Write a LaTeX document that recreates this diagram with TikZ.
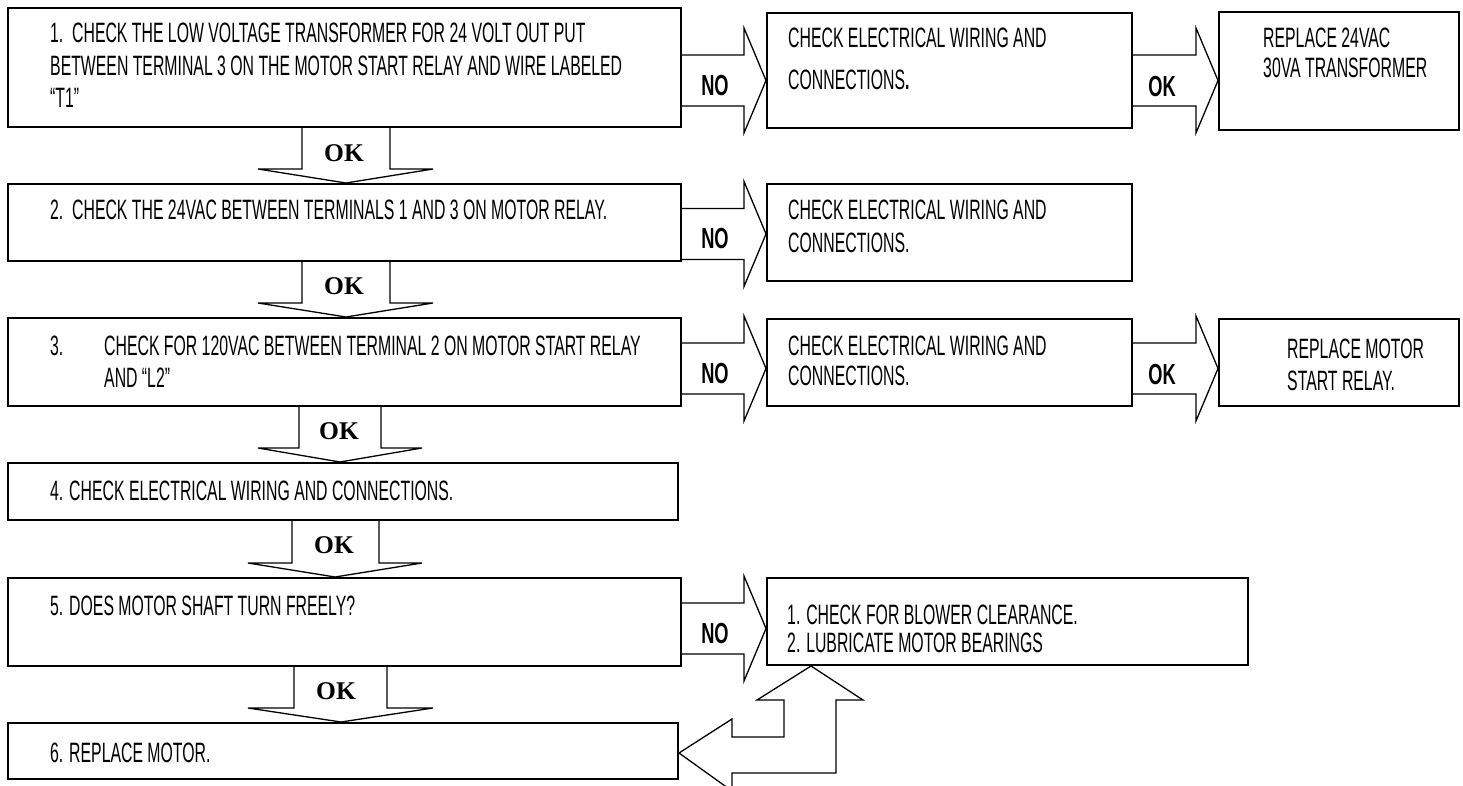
\documentclass[tikz,border=0pt]{standalone}
\usepackage{fontspec}
\setmainfont{Liberation Sans}[FakeStretch=0.565]
\newfontfamily\nofont{Liberation Sans}[FakeStretch=0.63]
\newfontfamily\okfont{Liberation Serif}
\usetikzlibrary{calc}
\tikzset{
  box/.style={draw, line width=2pt, inner sep=0pt, anchor=north west},
  arr/.style={draw, line width=1.3pt, line join=miter},
  txt/.style={inner sep=0pt, anchor=base west, font=\fontsize{28}{32}\selectfont},
  nolab/.style={inner sep=0pt, anchor=center, font=\nofont\bfseries\fontsize{29}{32}\selectfont},
  oklab/.style={inner sep=0pt, anchor=center, font=\okfont\bfseries\fontsize{25.5}{30}\selectfont}
}
\newcommand\hblock[3]{%
  \draw[arr] (#1.east |- 0,#3-25.5)
    -- ($(#2.west |- 0,#3)+(-22,-25.5)$)
    -- ($(#2.west |- 0,#3)+(-22,-52.5)$)
    -- (#2.west |- 0,#3)
    -- ($(#2.west |- 0,#3)+(-22,52.5)$)
    -- ($(#2.west |- 0,#3)+(-22,25.5)$)
    -- (#1.east |- 0,#3+25.5);}
\newcommand\vblock[7]{%
  \draw[arr] (#3,0 |- #1.south)
    -- ($(#3,0 |- #2.north)+(0,-14)$)
    -- ($(#5,0 |- #2.north)+(0,-14)$)
    -- (#7,0 |- #2.north)
    -- ($(#6,0 |- #2.north)+(0,-14)$)
    -- ($(#4,0 |- #2.north)+(0,-14)$)
    -- (#4,0 |- #1.south);}
\begin{document}
\begin{tikzpicture}[x=1pt,y=-1pt]
\useasboundingbox (0,0) rectangle (1463,786);
\clip (0,0) rectangle (1463,786);
% left column boxes
\node[box, minimum width=673pt, minimum height=119pt] (b1) at (7,7) {};
\node[box, minimum width=673pt, minimum height=77pt] (b2) at (7,183) {};
\node[box, minimum width=673pt, minimum height=88pt] (b3) at (7,317) {};
\node[box, minimum width=670pt, minimum height=57pt] (b4) at (7,462) {};
\node[box, minimum width=673pt, minimum height=88pt] (b5) at (7,577) {};
\node[box, minimum width=670pt, minimum height=56pt] (b6) at (7,722) {};
% right boxes
\node[box, minimum width=365pt, minimum height=115pt] (r1a) at (766,12) {};
\node[box, minimum width=240pt, minimum height=118pt] (r1b) at (1218,11) {};
\node[box, minimum width=365pt, minimum height=97pt] (r2a) at (766,183) {};
\node[box, minimum width=365pt, minimum height=87pt] (r3a) at (766,318) {};
\node[box, minimum width=240pt, minimum height=87pt] (r3b) at (1218,318) {};
\node[box, minimum width=481pt, minimum height=87pt] (r5a) at (766,577) {};
% texts
\node[txt] (t1a) at (50,43) {1.\ \ CHECK THE LOW VOLTAGE TRANSFORMER FOR 24 VOLT OUT PUT};
\node[txt] (t1b) at (50,75.5) {BETWEEN TERMINAL 3 ON THE MOTOR START RELAY AND WIRE LABELED};
\node[txt] (t1c) at (50,108) {“T1”};
\node[txt] (t2) at (50,220) {2.\ \ CHECK THE 24VAC BETWEEN TERMINALS 1 AND 3 ON MOTOR RELAY.};
\node[txt] (t3n) at (50,355) {3.};
\node[txt] (t3a) at (104,355) {CHECK FOR 120VAC BETWEEN TERMINAL 2 ON MOTOR START RELAY};
\node[txt] (t3b) at (104,387) {AND “L2”};
\node[txt] (t4) at (50,500) {4. CHECK ELECTRICAL WIRING AND CONNECTIONS.};
\node[txt] (t5) at (50,615) {5. DOES MOTOR SHAFT TURN FREELY?};
\node[txt] (t6) at (50,762) {6. REPLACE MOTOR.};
\node[txt] (s1a) at (788,48) {CHECK ELECTRICAL WIRING AND};
\node[txt] (s1b) at (788,90) {CONNECTIONS{\bfseries.}};
\node[txt] (s1c) at (1263,48) {REPLACE 24VAC};
\node[txt] (s1d) at (1263,78) {30VA TRANSFORMER};
\node[txt] (s2a) at (788,220) {CHECK ELECTRICAL WIRING AND};
\node[txt] (s2b) at (788,252) {CONNECTIONS.};
\node[txt] (s3a) at (788,355) {CHECK ELECTRICAL WIRING AND};
\node[txt] (s3b) at (788,385) {CONNECTIONS.};
\node[txt] (s3c) at (1287,358) {REPLACE MOTOR};
\node[txt] (s3d) at (1287,390) {START RELAY.};
\node[txt] (s5a) at (787,624) {1. CHECK FOR BLOWER CLEARANCE.};
\node[txt] (s5b) at (787,652) {2. LUBRICATE MOTOR BEARINGS};
% horizontal block arrows
\hblock{b1}{r1a}{80.5}
\hblock{r1a}{r1b}{80.5}
\hblock{b2}{r2a}{234}
\hblock{b3}{r3a}{368.5}
\hblock{r3a}{r3b}{368.5}
\hblock{b5}{r5a}{628.5}
\node[nolab] (n1) at (715,85.5) {NO};
\node[nolab] (k1) at (1162,86.5) {OK};
\node[nolab] (n2) at (715,239) {NO};
\node[nolab] (n3) at (715,373.5) {NO};
\node[nolab] (k3) at (1162,374.5) {OK};
\node[nolab] (n5) at (715,633.5) {NO};
% vertical block arrows
\vblock{b1}{b2}{302}{390}{258}{433}{346}
\vblock{b2}{b3}{302}{390}{258}{433}{346}
\vblock{b3}{b4}{299}{381}{258}{422}{340}
\vblock{b4}{b5}{292}{379}{248}{422}{335}
\vblock{b5}{b6}{294}{387}{248}{433}{341}
\node[oklab] (o1) at (344,153) {OK};
\node[oklab] (o2) at (344,286.5) {OK};
\node[oklab] (o3) at (339,431) {OK};
\node[oklab] (o4) at (334,545.5) {OK};
\node[oklab] (o5) at (336,691.5) {OK};
% U-turn arrow between r5a and b6
\coordinate (ut) at (811,0 |- r5a.south);
\coordinate (lt) at (b6.east |- 0,753);
\draw[arr] (ut) -- ($(ut)+(52,34)$) -- ($(ut)+(25,34)$) -- ($(ut)+(25,107)$)
  -- ($(ut)+(-79,107)$) -- ($(ut)+(-79,125)$) -- (lt)
  -- ($(ut)+(-79,53)$) -- ($(ut)+(-79,71)$) -- ($(ut)+(-27,71)$)
  -- ($(ut)+(-27,34)$) -- ($(ut)+(-54,34)$) -- cycle;
\end{tikzpicture}
\end{document}
